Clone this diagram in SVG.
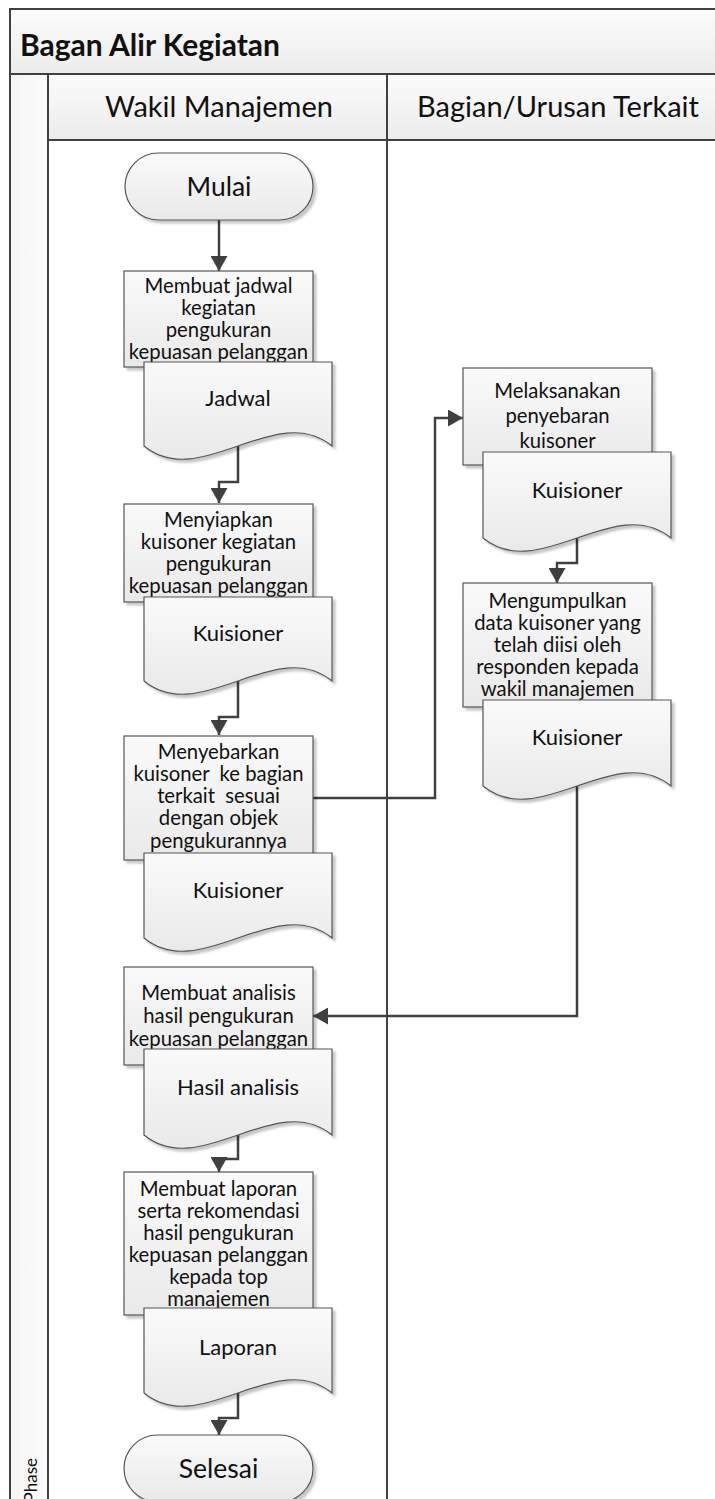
<svg xmlns="http://www.w3.org/2000/svg" width="715" height="1499" viewBox="0 0 715 1499">
<defs>
<linearGradient id="gBand" x1="0" y1="0" x2="0" y2="1"><stop offset="0" stop-color="#fbfbfb"/><stop offset="1" stop-color="#ececec"/></linearGradient>
<linearGradient id="gPhase" x1="0" y1="0" x2="1" y2="0"><stop offset="0" stop-color="#f4f4f4"/><stop offset="1" stop-color="#fcfcfc"/></linearGradient>
<linearGradient id="gShape" x1="0" y1="0" x2="0" y2="1"><stop offset="0" stop-color="#fafafa"/><stop offset="1" stop-color="#e9e9e9"/></linearGradient>
<filter id="sh" x="-10%" y="-10%" width="130%" height="130%"><feDropShadow dx="3" dy="3" stdDeviation="1.2" flood-color="#000" flood-opacity="0.22"/></filter>
<marker id="arr" markerUnits="userSpaceOnUse" markerWidth="16" markerHeight="17" refX="15" refY="8.5" orient="auto"><path d="M0,0 L15,8.5 L0,17 z" fill="#404040"/></marker>
<style>
.lane{stroke:#404040;stroke-width:2;fill:none}
.box{fill:url(#gShape);stroke:#555;stroke-width:1.2;filter:url(#sh)}
.t{font-family:Lato,"Liberation Sans",sans-serif;fill:#111;text-anchor:middle}
.p{font-size:20.3px}
.d{font-size:22px}
.term{font-size:26.5px}
.h{font-size:29px}
.con{fill:none;stroke:#404040;stroke-width:2.5}
</style>
</defs>
<g id="pool">
<rect x="10" y="9" width="710" height="65" fill="url(#gBand)"/>
<rect x="48" y="74" width="672" height="66" fill="url(#gBand)"/>
<rect x="10" y="74" width="38" height="1430" fill="url(#gPhase)"/>
<path class="lane" d="M715,9 H10 V1499 M10,74 H715 M48,140 H715 M48,74 V1499 M387,74 V1499"/>
<text class="t" x="20" y="56" style="font-size:30px;font-weight:bold;text-anchor:start">Bagan Alir Kegiatan</text>
<text class="t h" x="219" y="117">Wakil Manajemen</text>
<text class="t h" x="558" y="117">Bagian/Urusan Terkait</text>
<text class="t" transform="translate(37,1458) rotate(-90)" style="font-size:17px;text-anchor:end">Phase</text>
</g>
<g id="connectors">
<path class="con" d="M219,220 V271" marker-end="url(#arr)"/>
<path class="con" d="M238,446 V482 H219 V503" marker-end="url(#arr)"/>
<path class="con" d="M238,681 V717 H219 V735" marker-end="url(#arr)"/>
<path class="con" d="M313,798 H435 V418 H463" marker-end="url(#arr)"/>
<path class="con" d="M577,538 V563 H557 V583" marker-end="url(#arr)"/>
<path class="con" d="M577,786 V1016 H313" marker-end="url(#arr)"/>
<path class="con" d="M238,1135 V1159 H219 V1172" marker-end="url(#arr)"/>
<path class="con" d="M238,1393 V1418 H219 V1435" marker-end="url(#arr)"/>
</g>
<g id="mulai">
<rect class="box" x="125" y="153" width="188" height="67" rx="33.5"/>
<text class="t term" x="219" y="196">Mulai</text>
</g>
<g id="p1">
<rect class="box" x="124" y="271" width="189" height="96"/>
<text class="t p"><tspan x="218.5" y="293">Membuat jadwal</tspan><tspan x="218.5" y="315">kegiatan</tspan><tspan x="218.5" y="337">pengukuran</tspan><tspan x="218.5" y="359">kepuasan pelanggan</tspan></text>
</g>
<g id="d1">
<path class="box" d="M144,362 H332 V446 C275.6,400 200.4,492 144,446 Z"/>
<text class="t d" x="238" y="406">Jadwal</text>
</g>
<g id="p2">
<rect class="box" x="124" y="504" width="189" height="98"/>
<text class="t p"><tspan x="218.5" y="527">Menyiapkan</tspan><tspan x="218.5" y="549">kuisoner kegiatan</tspan><tspan x="218.5" y="571">pengukuran</tspan><tspan x="218.5" y="593">kepuasan pelanggan</tspan></text>
</g>
<g id="d2">
<path class="box" d="M144,597 H332 V681 C275.6,635 200.4,727 144,681 Z"/>
<text class="t d" x="238" y="641">Kuisioner</text>
</g>
<g id="p3">
<rect class="box" x="124" y="736" width="189" height="124"/>
<text class="t p"><tspan x="218.5" y="759">Menyebarkan</tspan><tspan x="218.5" y="781">kuisoner&#160; ke bagian</tspan><tspan x="218.5" y="803">terkait&#160; sesuai</tspan><tspan x="218.5" y="825">dengan objek</tspan><tspan x="218.5" y="848">pengukurannya</tspan></text>
</g>
<g id="d3">
<path class="box" d="M144,853 H332 V938 C275.6,892 200.4,984 144,938 Z"/>
<text class="t d" x="238" y="898">Kuisioner</text>
</g>
<g id="p4">
<rect class="box" x="463" y="368" width="189" height="97"/>
<text class="t p"><tspan x="557.5" y="398">Melaksanakan</tspan><tspan x="557.5" y="423">penyebaran</tspan><tspan x="557.5" y="448">kuisoner</tspan></text>
</g>
<g id="d4">
<path class="box" d="M483,452 H671 V538 C614.6,492 539.4,584 483,538 Z"/>
<text class="t d" x="577" y="498">Kuisioner</text>
</g>
<g id="p5">
<rect class="box" x="463" y="583" width="189" height="124"/>
<text class="t p"><tspan x="557.5" y="608">Mengumpulkan</tspan><tspan x="557.5" y="630">data kuisoner yang</tspan><tspan x="557.5" y="652">telah diisi oleh</tspan><tspan x="557.5" y="674">responden kepada</tspan><tspan x="557.5" y="696">wakil manajemen</tspan></text>
</g>
<g id="d5">
<path class="box" d="M483,700 H671 V786 C614.6,740 539.4,832 483,786 Z"/>
<text class="t d" x="577" y="745">Kuisioner</text>
</g>
<g id="p6">
<rect class="box" x="124" y="967" width="189" height="98"/>
<text class="t p"><tspan x="218.5" y="1000">Membuat analisis</tspan><tspan x="218.5" y="1023">hasil pengukuran</tspan><tspan x="218.5" y="1046">kepuasan pelanggan</tspan></text>
</g>
<g id="d6">
<path class="box" d="M144,1049 H332 V1135 C275.6,1089 200.4,1181 144,1135 Z"/>
<text class="t d" x="238" y="1095">Hasil analisis</text>
</g>
<g id="p7">
<rect class="box" x="124" y="1172" width="189" height="143"/>
<text class="t p"><tspan x="218.5" y="1196">Membuat laporan</tspan><tspan x="218.5" y="1218">serta rekomendasi</tspan><tspan x="218.5" y="1240">hasil pengukuran</tspan><tspan x="218.5" y="1262">kepuasan pelanggan</tspan><tspan x="218.5" y="1284">kepada top</tspan><tspan x="218.5" y="1306">manajemen</tspan></text>
</g>
<g id="d7">
<path class="box" d="M144,1308 H332 V1393 C275.6,1347 200.4,1439 144,1393 Z"/>
<text class="t d" x="238" y="1355">Laporan</text>
</g>
<g id="selesai">
<rect class="box" x="124" y="1435" width="189" height="67" rx="33.5"/>
<text class="t term" x="218.5" y="1478">Selesai</text>
</g>
</svg>
